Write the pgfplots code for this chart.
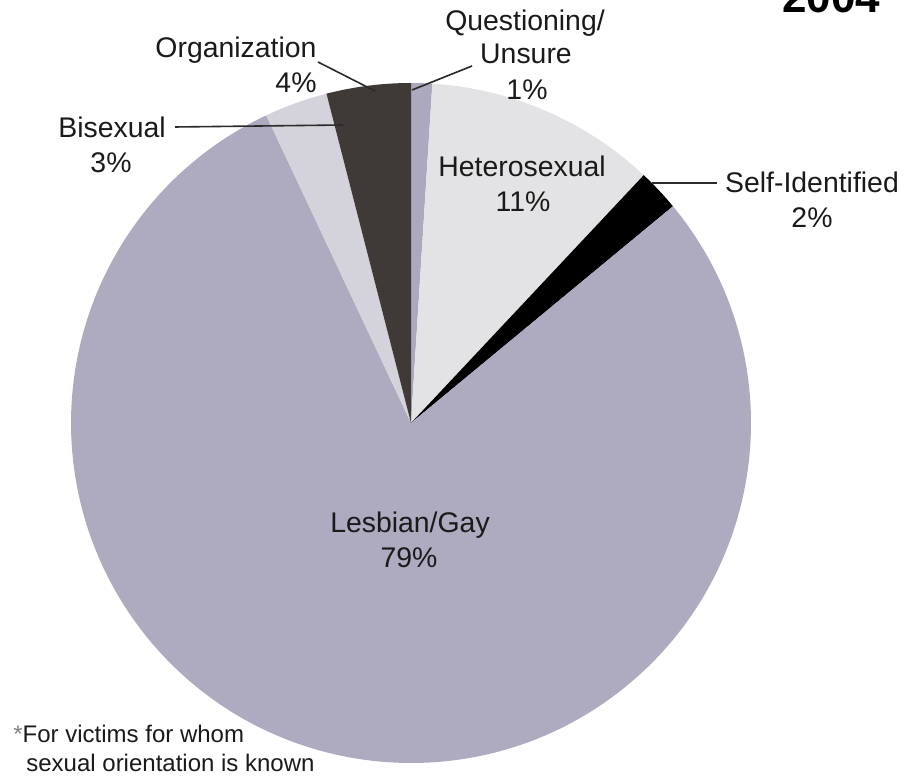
\documentclass[border=0pt]{standalone}
\usepackage{pgfplots}
\pgfplotsset{compat=1.18}
\usepackage{pgfplotstable}
\usepackage{fontspec}
\setmainfont{Liberation Sans}
\definecolor{cLG}{RGB}{174,170,192}
\definecolor{cQU}{RGB}{172,168,190}
\definecolor{cHE}{RGB}{227,226,228}
\definecolor{cSI}{RGB}{0,0,0}
\definecolor{cBI}{RGB}{212,210,219}
\definecolor{cOR}{RGB}{64,58,55}
\definecolor{txt}{RGB}{26,26,26}
\definecolor{lead}{RGB}{45,42,42}
% clockwise from 12 o'clock
\pgfplotstableread{
pct col
1 cQU
11 cHE
2 cSI
79 cLG
3 cBI
4 cOR
}\piedata
\begin{document}
\begin{tikzpicture}
\clip (0,0) rectangle (458.5pt,388pt);
\begin{axis}[at={(0,0)}, anchor=south west, scale only axis,
  width=458.5pt, height=388pt, xmin=0, xmax=917, ymin=0, ymax=776,
  hide axis, clip=false]
\def\cum{0}
\pgfplotsforeachungrouped \i in {0,...,5}{%
  \pgfplotstablegetelem{\i}{pct}\of\piedata \let\pval\pgfplotsretval
  \pgfplotstablegetelem{\i}{col}\of\piedata \let\cval\pgfplotsretval
  \pgfmathsetmacro\aS{90-3.6*\cum}%
  \pgfmathsetmacro\aE{90-3.6*(\cum+\pval)}%
  \edef\temp{\noexpand\fill[\cval] (axis cs:411,353) -- ++(\aS:170pt) arc[start angle=\aS, end angle=\aE, radius=170pt] -- cycle;}%
  \temp
  \pgfmathsetmacro\cum{\cum+\pval}%
}
% leader lines
\addplot[lead, line width=0.8pt, no marks] coordinates {(412,686) (472,710)};
\addplot[lead, line width=0.8pt, no marks] coordinates {(318,714) (375,685)};
\addplot[lead, line width=0.8pt, no marks] coordinates {(175,649) (343,651)};
\addplot[lead, line width=0.8pt, no marks] coordinates {(652,593) (717,593)};
% labels
\tikzset{lab/.style={anchor=base, text=txt, inner sep=0pt, font=\fontsize{14.2}{17}\selectfont}}
\node[lab] at (axis cs:525,745) {Questioning/};
\node[lab] at (axis cs:526,712) {Unsure};
\node[lab] at (axis cs:527,676) {1\%};
\node[lab] at (axis cs:236,718) {Organization};
\node[lab] at (axis cs:296,683) {4\%};
\node[lab] at (axis cs:112,638) {Bisexual};
\node[lab] at (axis cs:111,603) {3\%};
\node[lab] at (axis cs:522,599) {Heterosexual};
\node[lab] at (axis cs:523,564) {11\%};
\node[lab] at (axis cs:812,583) {Self-Identified};
\node[lab] at (axis cs:812,548) {2\%};
\node[lab] at (axis cs:410,243) {Lesbian/Gay};
\node[lab] at (axis cs:409,208) {79\%};
\node[anchor=base west, inner sep=0pt, text=black, font=\fontsize{22}{24}\bfseries\selectfont] at (axis cs:782,763) {2004};
\tikzset{foot/.style={anchor=base west, text=txt, inner sep=0pt, font=\fontsize{12}{14}\selectfont}}
\node[foot] at (axis cs:13,33) {\textcolor{gray}{*}For victims for whom};
\node[foot] at (axis cs:26,4) {sexual orientation is known};
\end{axis}
\end{tikzpicture}
\end{document}
